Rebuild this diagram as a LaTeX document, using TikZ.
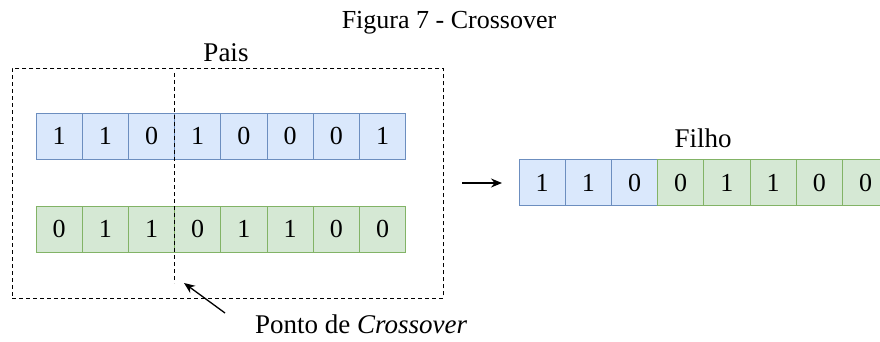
\documentclass[tikz,border=0pt]{standalone}
\usepackage{fontspec}
\setmainfont{Liberation Serif}
\newfontfamily\diagfont{Liberation Serif}
\usetikzlibrary{arrows.meta}
\definecolor{bluefill}{HTML}{DAE8FC}
\definecolor{bluedraw}{HTML}{6C8EBF}
\definecolor{greenfill}{HTML}{D5E8D4}
\definecolor{greendraw}{HTML}{82B366}
\tikzset{
  cell/.style={minimum width=46.2pt, minimum height=46pt, inner sep=0pt, outer sep=0pt,
    font=\diagfont\fontsize{26}{26}\selectfont, line width=0.9pt},
  bluecell/.style={cell, fill=bluefill, draw=bluedraw},
  greencell/.style={cell, fill=greenfill, draw=greendraw},
  captiontext/.style={font=\diagfont\fontsize{26}{26}\selectfont, inner sep=0pt, anchor=base},
  diagtext/.style={font=\diagfont\fontsize{27}{27}\selectfont, inner sep=0pt, anchor=base},
  frame/.style={draw=black, line width=0.9pt, dash pattern=on 4pt off 3pt},
  pointer/.style={line width=1.3pt, -{Stealth[length=11pt,width=9pt]}},
}
\begin{document}
\begin{tikzpicture}[x=1pt, y=-1pt]
  \useasboundingbox (0,0) rectangle (880,342);
  \clip (0,0) rectangle (880,342);

  % caption
  \node[captiontext] (title) at (449,29) {Figura 7 - Crossover};

  % parents
  \node[diagtext] (pais) at (226,62) {Pais};
  \node[frame, minimum width=431pt, minimum height=230pt, inner sep=0pt, anchor=north west] (box) at (12,68) {};

  \foreach \b [count=\i] in {1,1,0,1,0,0,0,1}
    \node[bluecell] (p\i) at ({36+46.2*(\i-0.5)},136) {\b};
  \foreach \b [count=\i] in {0,1,1,0,1,1,0,0}
    \node[greencell] (q\i) at ({36+46.2*(\i-0.5)},229) {\b};

  % crossover point
  \coordinate (cuttop) at (p3.north east |- 0,73);
  \coordinate (cutbot) at (p3.north east |- 0,283);
  \draw[frame] (cuttop) -- (cutbot);

  \node[diagtext, anchor=base west] (ponto) at (255,333) {Ponto de \textit{Crossover}};
  \coordinate (tail) at (225,313);
  \coordinate (tip) at (184,283);
  \draw[pointer] (tail) -- (tip);

  % offspring
  \node[diagtext] (filho) at (703,147) {Filho};
  \foreach \b [count=\i] in {1,1,0}
    \node[bluecell] (c\i) at ({519+46.2*(\i-0.5)},182.5) {\b};
  \foreach \b [count=\i from 4] in {0,1,1,0,0}
    \node[greencell] (c\i) at ({519+46.2*(\i-0.5)},182.5) {\b};

  \coordinate (from) at (462,183);
  \coordinate (to) at (502,183);
  \draw[pointer] (from) -- (to);
\end{tikzpicture}
\end{document}
